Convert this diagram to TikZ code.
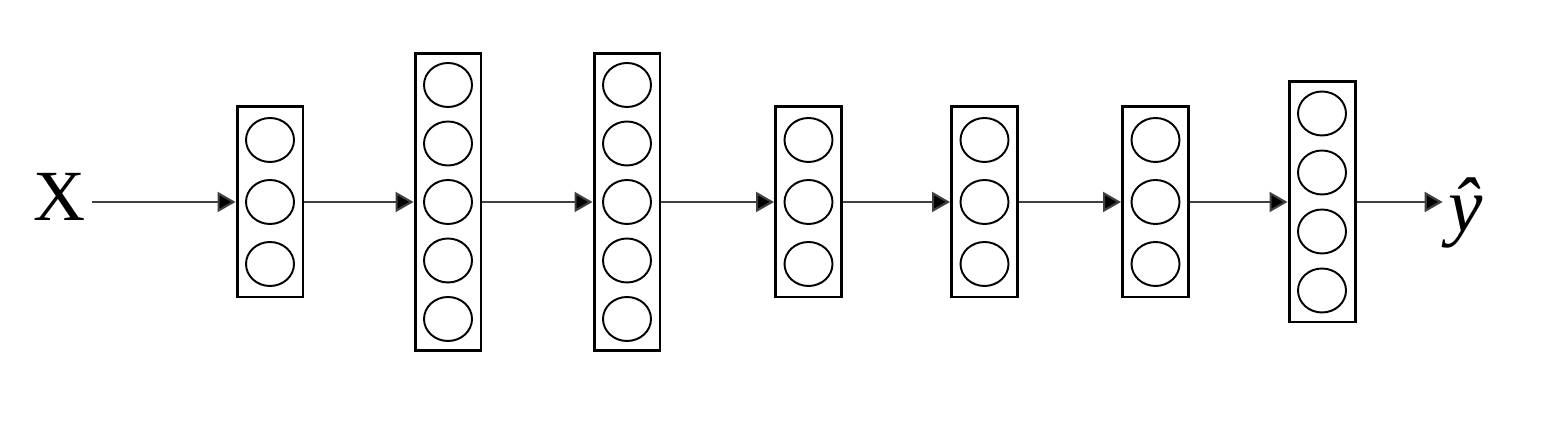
\documentclass[tikz,border=0pt]{standalone}
\usepackage{fontspec}
\setmainfont{Liberation Serif}
\usetikzlibrary{arrows.meta, shapes.geometric, positioning}
\tikzset{
    layer/.style={draw, line width=1.7pt, minimum width=1.32cm, inner sep=0pt},
    unit/.style={draw, ellipse, line width=1.1pt, minimum width=0.96cm, minimum height=0.88cm, inner sep=0pt},
    feed/.style={-{Triangle[length=0.36cm, width=0.4cm, fill=black]}, line width=1.2pt, draw=black!75}
}

\begin{document}
\begin{tikzpicture}[x=0.02cm, y=-0.02cm]
    \def \mid {202}
    \useasboundingbox (0,0) rectangle (1545,421);
    \node[font=\fontsize{41}{41}\selectfont] (in) at (60,197) {X};
    % layers: name / x / units / spacing
    \foreach \name/\cx/\n/\s in {l1/270/3/62, l2/448/5/58.5, l3/627/5/58.5, l4/808.5/3/62, l5/984.5/3/62, l6/1155.5/3/62, l7/1322/4/59}{
        \node[layer, minimum height={(\n*\s+4)*0.02cm}] (\name) at (\cx,\mid) {};
        \foreach \k in {1,...,\n}
            \node[unit] (\name-\k) at (\cx, {\mid+(\k-(\n+1)/2)*\s}) {};
    }
    \node[font=\fontsize{44}{44}\selectfont\itshape] (out) at (1466,213) {ŷ};
    \draw[feed] (in.east |- l1) -- (l1);
    \draw[feed] (l1) -- (l2);
    \draw[feed] (l2) -- (l3);
    \draw[feed] (l3) -- (l4);
    \draw[feed] (l4) -- (l5);
    \draw[feed] (l5) -- (l6);
    \draw[feed] (l6) -- (l7);
    \draw[feed] (l7) -- (l7 -| out.west);
\end{tikzpicture}
\end{document}
